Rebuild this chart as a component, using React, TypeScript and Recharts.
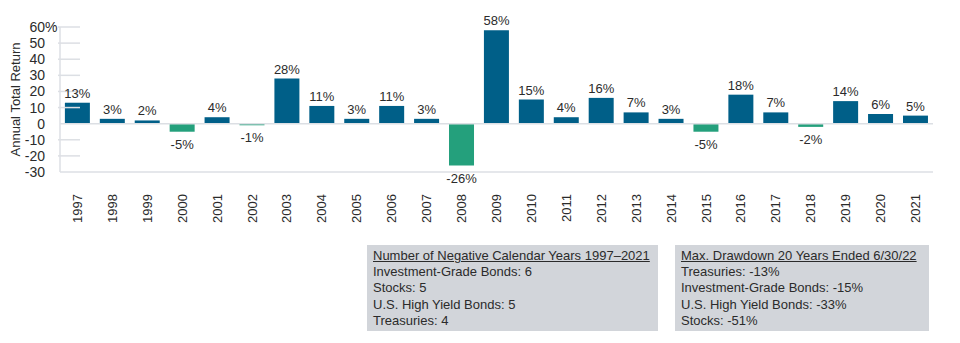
import React from 'react'
import { BarChart, Bar, XAxis, YAxis, Cell, LabelList, ReferenceLine, Label } from 'recharts'

const years = ['1997', '1998', '1999', '2000', '2001', '2002', '2003', '2004', '2005', '2006', '2007', '2008', '2009', '2010', '2011', '2012', '2013', '2014', '2015', '2016', '2017', '2018', '2019', '2020', '2021']
const returns = [13, 3, 2, -5, 4, -1, 28, 11, 3, 11, 3, -26, 58, 15, 4, 16, 7, 3, -5, 18, 7, -2, 14, 6, 5]
const yTicks = [-30, -20, -10, 0, 10, 20, 30, 40, 50, 60]

const negativeYearsTitle = 'Number of Negative Calendar Years 1997–2021'
const negativeYears = ['Investment-Grade Bonds: 6', 'Stocks: 5', 'U.S. High Yield Bonds: 5', 'Treasuries: 4']
const drawdownTitle = 'Max. Drawdown 20 Years Ended 6/30/22'
const drawdowns = ['Treasuries: -13%', 'Investment-Grade Bonds: -15%', 'U.S. High Yield Bonds: -33%', 'Stocks: -51%']

const data = years.map((year, i) => ({ year, value: returns[i] }))

const POS = '#005f88'
const NEG = '#24a07c'
const GRID = '#dcdfe4'
const TEXT = '#2b2b2b'
const FONT = '"Liberation Sans", Arial, Helvetica, sans-serif'

// numbers right-aligned, the "%" on 60 hangs past them
const YTick = (props: any) => {
  const { x, y, payload } = props
  const v = payload.value
  return (
    <g>
      {v !== 0 && v !== -30 && <line x1={x + 6} x2={x + 28} y1={y} y2={y} stroke={GRID} strokeWidth={1.5} />}
      <text x={x - 7} y={y} dy={5} textAnchor="end" fontSize={14} fill={TEXT} fontFamily={FONT}>
        {v}
      </text>
      {v === 60 && (
        <text x={x - 7} y={y} dy={5} textAnchor="start" fontSize={14} fill={TEXT} fontFamily={FONT}>
          %
        </text>
      )}
    </g>
  )
}

const XTick = (props: any) => {
  const { x, y, payload } = props
  const ay = y + 14
  return (
    <text x={x} y={ay} dy={4.5} transform={`rotate(-90 ${x} ${ay})`} textAnchor="end" fontSize={13} fill={TEXT} fontFamily={FONT}>
      {payload.value}
    </text>
  )
}

const ValueLabel = (props: any) => {
  const { x, y, width, height, value } = props
  const cx = x + width / 2
  const top = Math.min(y, y + height)
  const bottom = Math.max(y, y + height)
  const ty = value < 0 ? bottom + 17 : top - 5
  return (
    <text x={cx} y={ty} textAnchor="middle" fontSize={13} fill={TEXT} fontFamily={FONT}>
      {value}%
    </text>
  )
}

const AxisTitle = (props: any) => {
  const { viewBox } = props
  const cy = viewBox.y + viewBox.height / 2
  return (
    <text x={20} y={cy} transform={`rotate(-90 20 ${cy})`} textAnchor="middle" fontSize={13} fill={TEXT} fontFamily={FONT}>
      Annual Total Return
    </text>
  )
}

const InfoBox = ({ left, width, title, lines }: { left: number; width: number; title: string; lines: string[] }) => (
  <div
    style={{
      position: 'absolute',
      left,
      top: 245,
      width,
      height: 86,
      background: '#d2d5da',
      boxSizing: 'border-box',
      padding: '3px 0 0 6px',
      fontFamily: FONT,
      fontSize: 13,
      lineHeight: '16.2px',
      color: TEXT,
      whiteSpace: 'nowrap',
    }}
  >
    <div style={{ textDecoration: 'underline' }}>{title}</div>
    {lines.map((l) => (
      <div key={l}>{l}</div>
    ))}
  </div>
)

export default function App() {
  return (
    <div style={{ position: 'absolute', left: 0, top: 0, width: 960, height: 343, background: '#fff', overflow: 'hidden' }}>
      <BarChart
        width={960}
        height={240}
        data={data}
        margin={{ top: 27, right: 27, left: 0, bottom: 8 }}
        barCategoryGap="14%"
      >
        <XAxis
          dataKey="year"
          interval={0}
          height={60}
          tick={<XTick />}
          tickLine={false}
          axisLine={{ stroke: GRID, strokeWidth: 1.5 }}
        />
        <YAxis
          width={60}
          domain={[-30, 60]}
          ticks={yTicks}
          interval={0}
          tick={<YTick />}
          tickLine={false}
          axisLine={{ stroke: GRID, strokeWidth: 1.5 }}
        >
          <Label content={<AxisTitle />} />
        </YAxis>
        <ReferenceLine y={0} stroke={GRID} strokeWidth={1.5} />
        <Bar dataKey="value" isAnimationActive={false}>
          {data.map((d) => (
            <Cell key={d.year} fill={d.value < 0 ? NEG : POS} />
          ))}
          <LabelList dataKey="value" content={<ValueLabel />} />
        </Bar>
      </BarChart>
      <InfoBox left={367} width={291} title={negativeYearsTitle} lines={negativeYears} />
      <InfoBox left={675} width={254} title={drawdownTitle} lines={drawdowns} />
    </div>
  )
}
